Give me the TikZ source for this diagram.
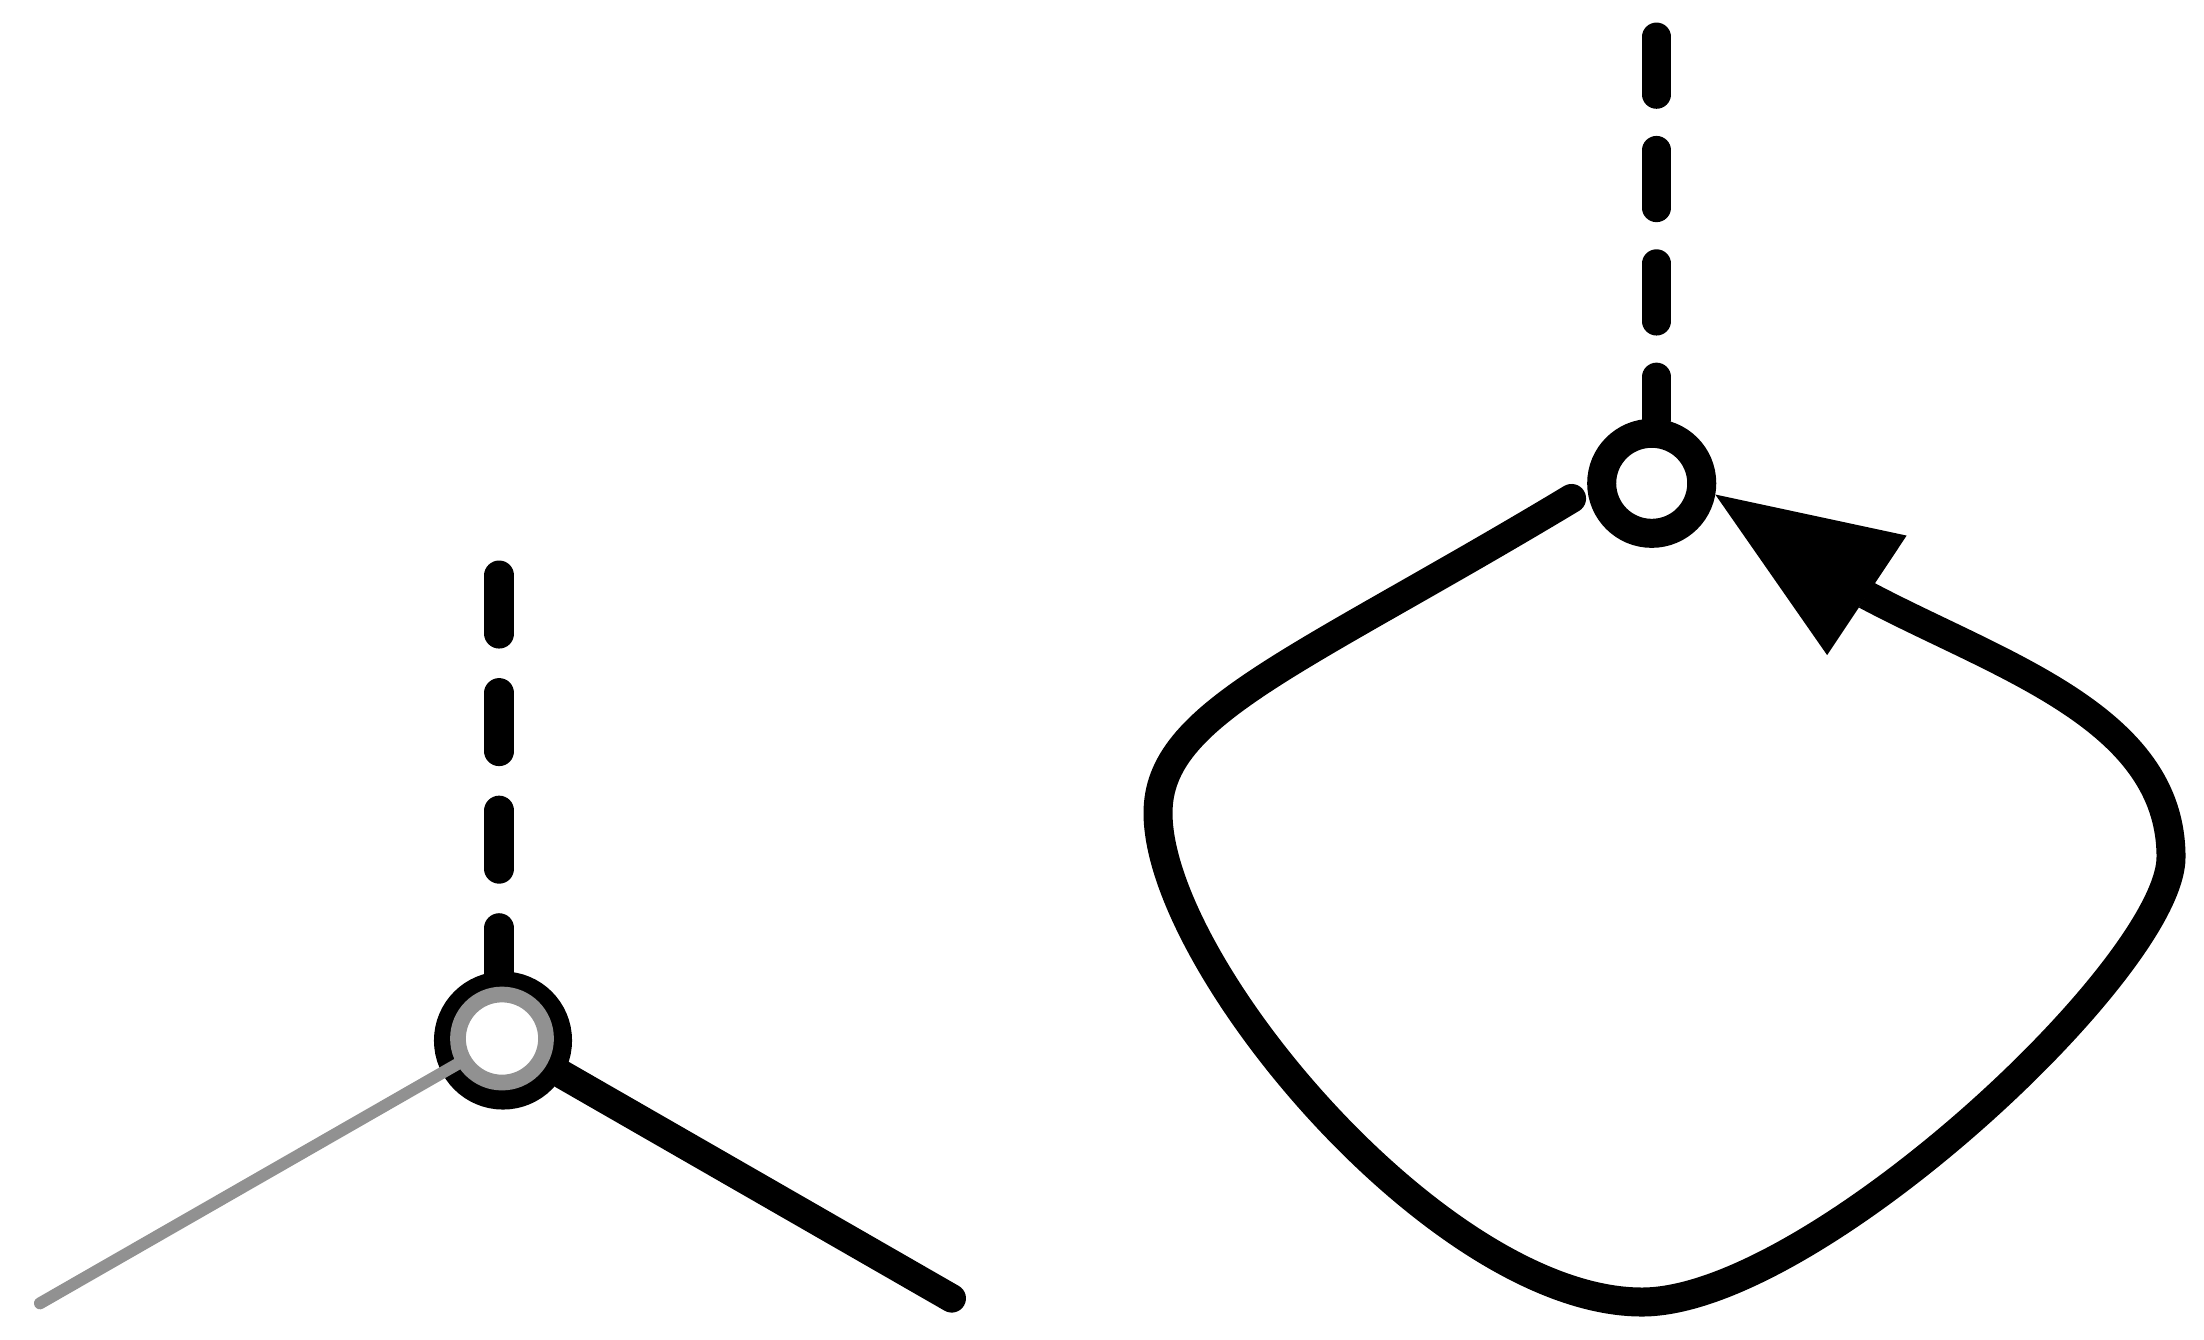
\documentclass[tikz,border=0pt]{standalone}
\usetikzlibrary{arrows.meta}
\definecolor{ringgray}{RGB}{145,145,145}
\begin{document}
\begin{tikzpicture}[x=0.01cm,y=-0.01cm,
  blackring/.style={circle, draw=black, fill=white, inner sep=0pt, line width=0.31cm, minimum size=1.07cm},
  grayring/.style={circle, draw=ringgray, fill=white, inner sep=0pt, line width=0.157cm, minimum size=0.88cm},
  rightring/.style={circle, draw=black, fill=white, inner sep=0pt, line width=0.29cm, minimum size=1.0cm},
  leftstem/.style={black, line width=0.30cm, line cap=round, dash pattern=on 0.58cm off 0.595cm},
  rightstem/.style={black, line width=0.285cm, line cap=round, dash pattern=on 0.577cm off 0.556cm},
  edgeline/.style={black, line width=0.285cm, line cap=round},
  grayline/.style={ringgray, line width=0.12cm, line cap=round},
  loopline/.style={black, line width=0.29cm, line cap=round},
  looparrow/.style={-{Triangle[length=1.82cm, width=1.435cm, line width=0pt]}}
]
\useasboundingbox (0,0) rectangle (2204,1339);

% ---------- left figure ----------
\node[blackring] (LB) at (503,1040.5) {};
\coordinate (ltop) at (499.3,575.5);
\coordinate (lbend) at (951.7,1298.3);
\coordinate (lgend) at (40,1303.3);
\draw[leftstem] (ltop) -- (ltop |- LB.north);
\draw[edgeline] (LB) -- (lbend);
\node[grayring] (LG) at (502,1038.5) {};
\draw[grayline] (lgend) -- (LG);

% ---------- right figure ----------
\node[rightring] (R) at (1651.7,483.3) {};
\coordinate (rtop) at (1656.5,36.8);
\coordinate (abase) at (1866.8,595.3);
\draw[rightstem] (rtop) -- (rtop |- R.north);
\draw[loopline, looparrow, shorten <=0.185cm]
  (R.185) .. controls (1296,664) and (1158,713) .. (1158,813)
          .. controls (1158,965) and (1440,1302) .. (1642,1302)
          .. controls (1812,1302) and (2171,967) .. (2171,857)
          .. controls (2171,717) and (1999.3,665.5) .. (abase)
          -- (R.350);
\end{tikzpicture}
\end{document}
